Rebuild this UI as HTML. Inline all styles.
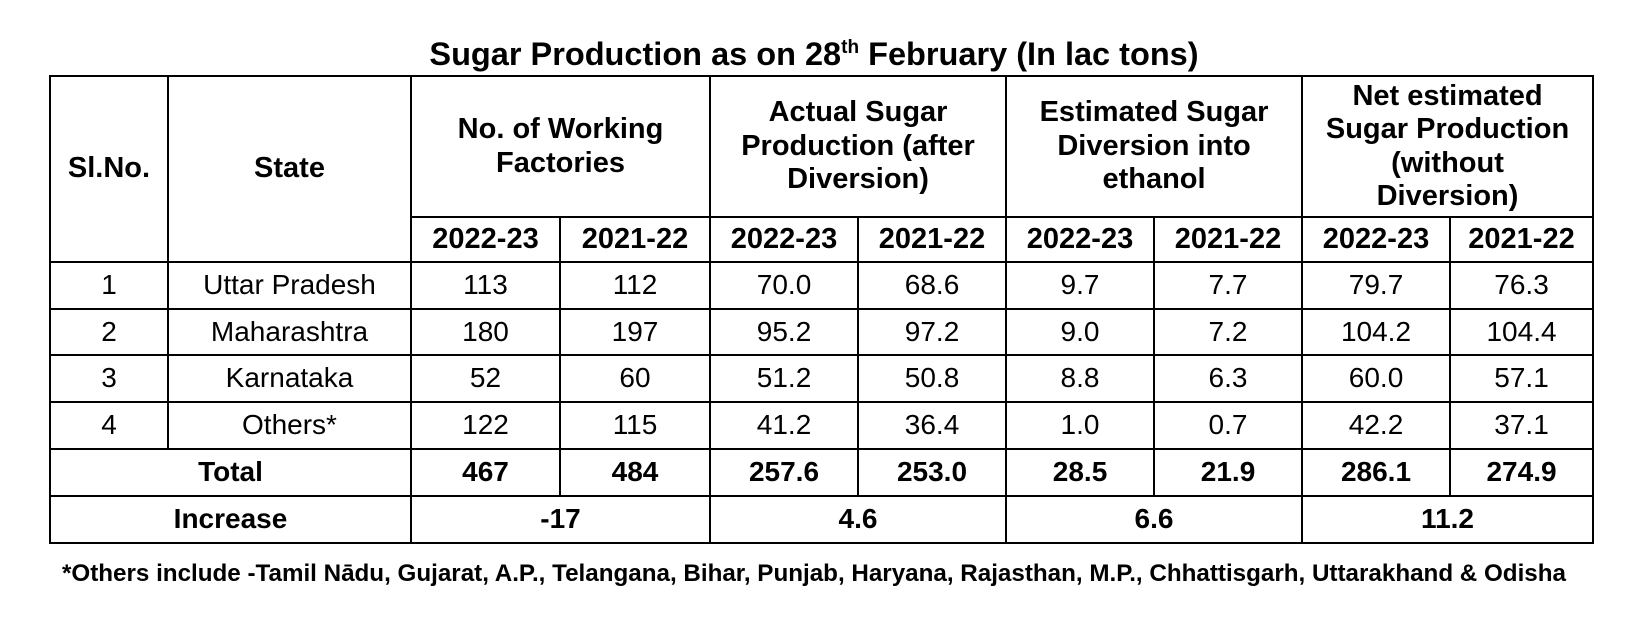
<!DOCTYPE html>
<html><head><meta charset="utf-8"><style>
body{margin:0;width:1628px;height:618px;background:#fff;position:relative;font-family:"Liberation Sans Narrow","Liberation Sans",Arial,sans-serif;color:#000}
.title{position:absolute;left:0;width:1628px;top:36px;text-align:center;font-weight:bold;font-size:32.5px;font-family:"Liberation Sans",sans-serif;}
.title sup{font-size:19px}
table{position:absolute;left:49px;top:75px;border-collapse:collapse;table-layout:fixed;width:1543px}
td{border:2px solid #000;text-align:center;font-size:28px;padding:0;line-height:1.15}
.h td{font-size:29px}
.h td,.b td{font-weight:bold}
.foot{position:absolute;left:0;width:1628px;top:560px;text-align:center;font-weight:bold;font-size:24.2px;font-family:"Liberation Sans",sans-serif}
</style></head><body>
<div class="title">Sugar Production as on 28<sup>th</sup> February (In lac tons)</div>
<table>
<colgroup><col style="width:118px"><col style="width:243px"><col style="width:149px"><col style="width:150px"><col style="width:148px"><col style="width:148px"><col style="width:148px"><col style="width:148px"><col style="width:148px"><col style="width:143px"></colgroup>
<tr class="h" style="height:141px"><td rowspan="2">Sl.No.</td><td rowspan="2">State</td><td colspan="2">No. of Working<br>Factories</td><td colspan="2">Actual Sugar<br>Production (after<br>Diversion)</td><td colspan="2">Estimated Sugar<br>Diversion into<br>ethanol</td><td colspan="2">Net estimated<br>Sugar Production<br>(without<br>Diversion)</td></tr>
<tr class="h" style="height:45px"><td>2022-23</td><td>2021-22</td><td>2022-23</td><td>2021-22</td><td>2022-23</td><td>2021-22</td><td>2022-23</td><td>2021-22</td></tr>
<tr style="height:47px"><td>1</td><td>Uttar Pradesh</td><td>113</td><td>112</td><td>70.0</td><td>68.6</td><td>9.7</td><td>7.7</td><td>79.7</td><td>76.3</td></tr>
<tr style="height:46px"><td>2</td><td>Maharashtra</td><td>180</td><td>197</td><td>95.2</td><td>97.2</td><td>9.0</td><td>7.2</td><td>104.2</td><td>104.4</td></tr>
<tr style="height:47px"><td>3</td><td>Karnataka</td><td>52</td><td>60</td><td>51.2</td><td>50.8</td><td>8.8</td><td>6.3</td><td>60.0</td><td>57.1</td></tr>
<tr style="height:47px"><td>4</td><td>Others*</td><td>122</td><td>115</td><td>41.2</td><td>36.4</td><td>1.0</td><td>0.7</td><td>42.2</td><td>37.1</td></tr>
<tr class="b" style="height:47px"><td colspan="2">Total</td><td>467</td><td>484</td><td>257.6</td><td>253.0</td><td>28.5</td><td>21.9</td><td>286.1</td><td>274.9</td></tr>
<tr class="b" style="height:47px"><td colspan="2">Increase</td><td colspan="2">-17</td><td colspan="2">4.6</td><td colspan="2">6.6</td><td colspan="2">11.2</td></tr>
</table>
<div class="foot">*Others include -Tamil Nādu, Gujarat, A.P., Telangana, Bihar, Punjab, Haryana, Rajasthan, M.P., Chhattisgarh, Uttarakhand &amp; Odisha</div>
</body></html>
